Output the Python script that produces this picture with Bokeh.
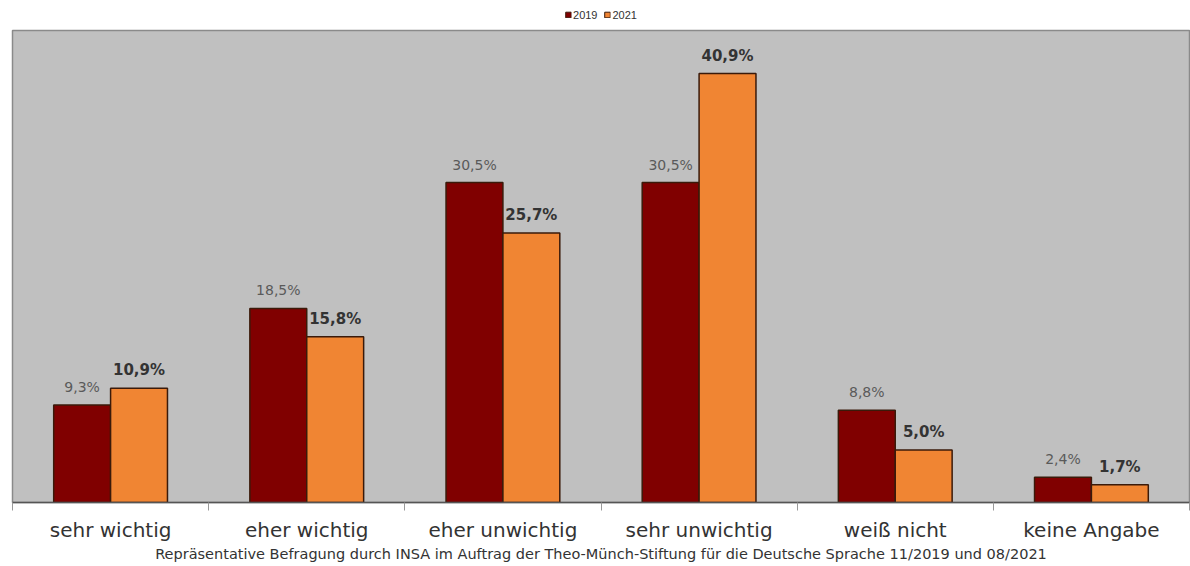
from bokeh.plotting import figure
from bokeh.layouts import column
from bokeh.models import (Range1d, ColumnDataSource, LinearAxis,
                          FixedTicker, Legend, LegendItem, LabelSet)
from bokeh.core.properties import value
from bokeh.transform import dodge
from bokeh.embed import file_html
from bokeh.resources import INLINE

categories = ["sehr wichtig", "eher wichtig", "eher unwichtig", "sehr unwichtig", "weiß nicht", "keine Angabe"]
series = ["2019", "2021"]
colors = ["#800000", "#f08533"]
values_2019 = [9.3, 18.5, 30.5, 30.5, 8.8, 2.4]
values_2021 = [10.9, 15.8, 25.7, 40.9, 5.0, 1.7]
footnote = "Repräsentative Befragung durch INSA im Auftrag der Theo-Münch-Stiftung für die Deutsche Sprache 11/2019 und 08/2021"

def fmt(v):
    return f"{v:.1f}%".replace(".", ",")

n = len(categories)
idx = list(range(n))
src = ColumnDataSource(dict(
    x=idx,
    v2019=values_2019,
    v2021=values_2021,
    t2019=[fmt(v) for v in values_2019],
    t2021=[fmt(v) for v in values_2021],
))

FONT = "DejaVu Sans"
OUTLINE = "#3a1a0a"

# ---- legend strip on top (proxy renderers lie outside the visible range) ----
top = figure(x_range=Range1d(0, 1), y_range=Range1d(0, 1), width=1190, height=29,
             output_backend="svg", toolbar_location=None, x_axis_location=None, y_axis_location=None,
             min_border_left=0, min_border_right=0, min_border_top=0, min_border_bottom=0)
top.outline_line_color = None
top.xgrid.visible = False
top.ygrid.visible = False
proxy = ColumnDataSource(dict(x=[-10], top=[0]))
lr = [top.vbar(x="x", top="top", width=0.1, source=proxy, fill_color=c, line_color=OUTLINE)
      for c in colors]
legend = Legend(items=[LegendItem(label=s, renderers=[r]) for s, r in zip(series, lr)],
                orientation="horizontal", location="center",
                label_text_font_size="11px", label_text_font="Liberation Sans", label_text_color="#333333",
                glyph_width=7, glyph_height=7, label_standoff=2, spacing=6, label_height=11,
                border_line_color=None, background_fill_alpha=0, padding=2, margin=0)
top.add_layout(legend, "center")

# ---- main chart ----
p = figure(x_range=Range1d(-0.5, n - 0.5), y_range=Range1d(0, 45),
           width=1190, height=537, output_backend="svg", toolbar_location=None,
           x_axis_location=None, y_axis_location=None,
           min_border_left=12, min_border_right=1, min_border_top=1, min_border_bottom=64)
p.background_fill_color = "#c0c0c0"
p.border_fill_color = "white"
p.outline_line_color = "#8a8a8a"
p.outline_line_width = 1.5
p.xgrid.visible = False
p.ygrid.visible = False

bw = 0.29
r1 = p.vbar(x=dodge("x", -bw / 2), top="v2019", width=bw, source=src,
            fill_color=colors[0], line_color=OUTLINE, line_width=1.5)
r2 = p.vbar(x=dodge("x", bw / 2), top="v2021", width=bw, source=src,
            fill_color=colors[1], line_color=OUTLINE, line_width=1.5)

l1 = LabelSet(x=dodge("x", -bw / 2), y="v2019", text="t2019", source=src,
              text_align="center", text_baseline="bottom", y_offset=10,
              text_font=value(FONT), text_font_size=value("14px"), text_color=value("#5a5a5a"))
l2 = LabelSet(x=dodge("x", bw / 2), y="v2021", text="t2021", source=src,
              text_align="center", text_baseline="bottom", y_offset=9,
              text_font=value(FONT), text_font_size=value("15px"), text_font_style=value("bold"),
              text_color=value("#333333"))
p.add_layout(l1)
p.add_layout(l2)

# tick axis with ticks between categories (no labels)
edges = [i - 0.5 for i in range(n + 1)]
ax1 = LinearAxis(ticker=FixedTicker(ticks=edges), major_label_overrides={e: "" for e in edges},
                 major_label_standoff=0, major_label_text_font_size="1px",
                 minor_tick_line_color=None, major_tick_in=0, major_tick_out=8,
                 axis_line_color="#555555", axis_line_width=1.5, major_tick_line_color="#999999")
p.add_layout(ax1, "below")
ax2 = LinearAxis(ticker=FixedTicker(ticks=idx), major_label_overrides={i: c for i, c in enumerate(categories)},
                 axis_line_color=None, major_tick_line_color=None, minor_tick_line_color=None,
                 major_label_text_font_size="20px", major_label_text_color="#333333",
                 major_label_text_font=FONT, major_label_standoff=1,
                 axis_label=footnote, axis_label_standoff=1, axis_label_text_font=FONT,
                 axis_label_text_font_size="14.5px", axis_label_text_font_style="normal",
                 axis_label_text_color="#333333")
p.add_layout(ax2, "below")

layout = column(top, p, spacing=0)
open("out.html", "w").write(file_html(layout, INLINE))
